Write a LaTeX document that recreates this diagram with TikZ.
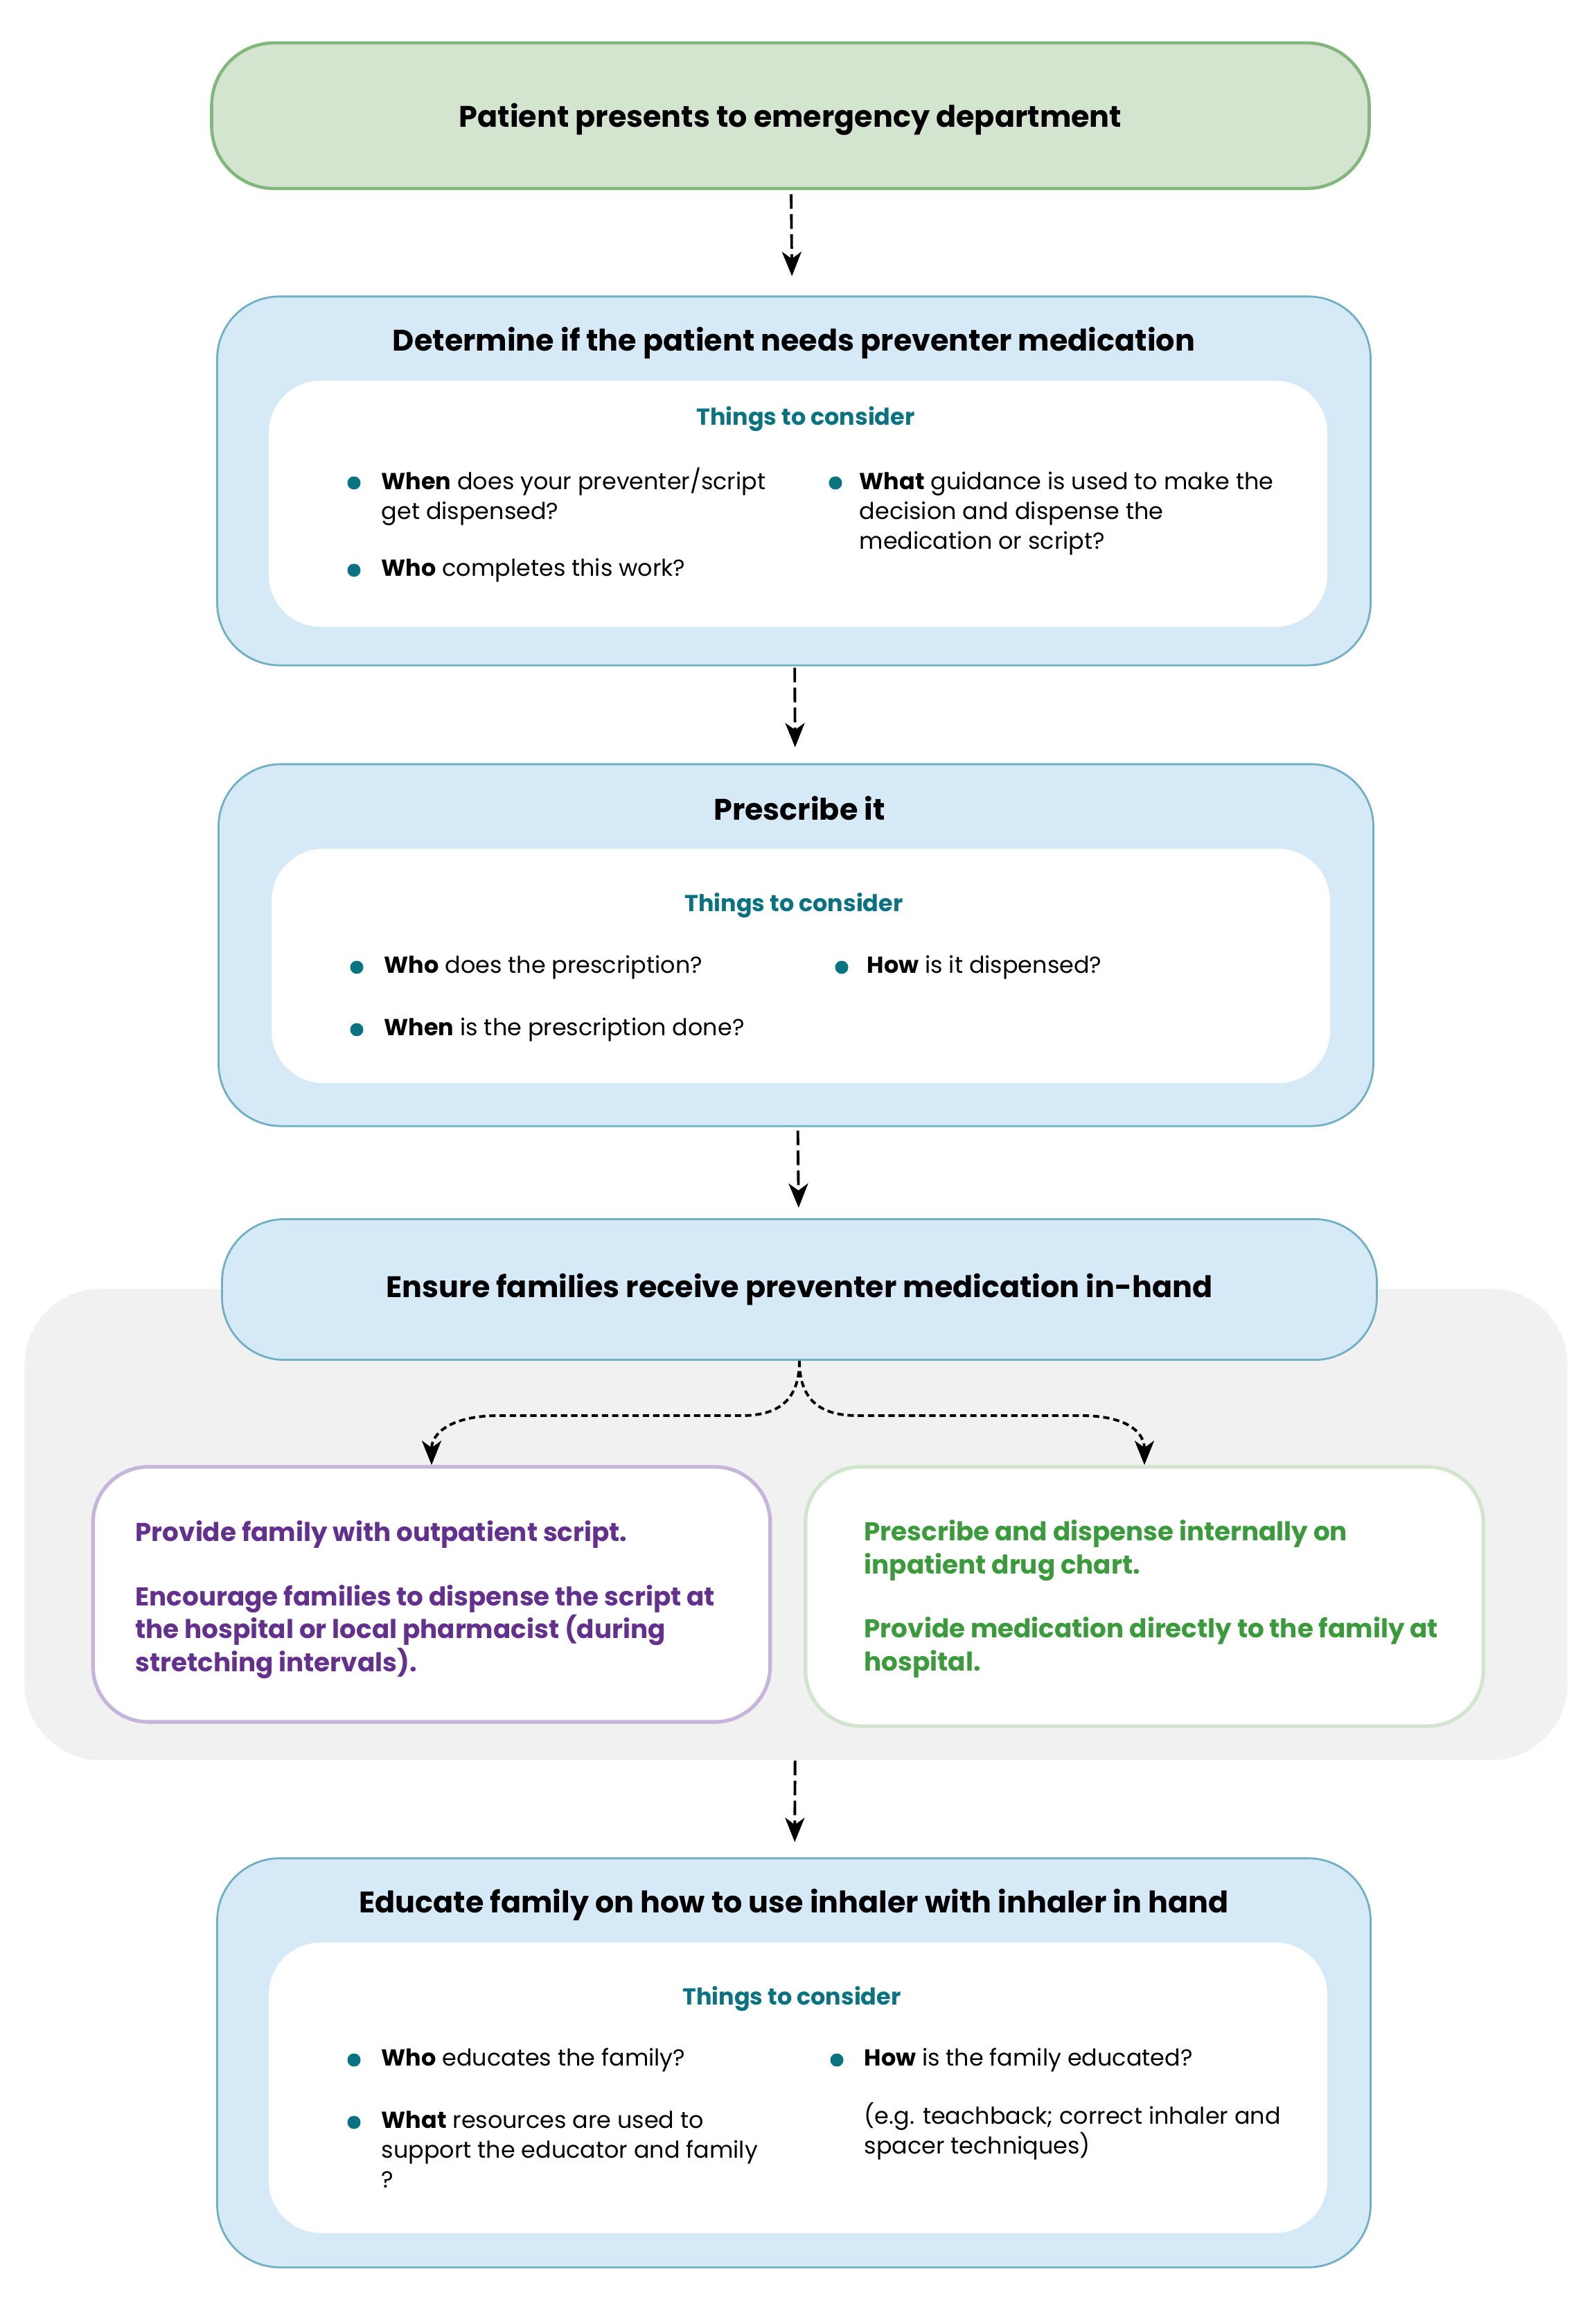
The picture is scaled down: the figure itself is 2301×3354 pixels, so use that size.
\documentclass[tikz,border=0pt]{standalone}
\usepackage{fontspec}
\setmainfont{Poppins}
\usepackage{xcolor}
\usetikzlibrary{arrows.meta,positioning}

\definecolor{entrygreen}{HTML}{D3E4CF}
\definecolor{entrygreenline}{HTML}{82B77C}
\definecolor{stageblue}{HTML}{D5EAF6}
\definecolor{stageblueline}{HTML}{6FB0C3}
\definecolor{considerteal}{HTML}{0A7382}
\definecolor{panelgray}{HTML}{F1F1F1}
\definecolor{scriptpurple}{HTML}{63308F}
\definecolor{scriptpurpleline}{HTML}{C6B5DB}
\definecolor{dispensegreen}{HTML}{3A9B3A}
\definecolor{dispensegreenline}{HTML}{D2E5CF}

\begin{document}
\begin{tikzpicture}[
    x=0.01cm, y=-0.01cm,
    box/.style={rectangle, inner sep=0pt, rounded corners=0.9cm},
    entry/.style={box, fill=entrygreen, draw=entrygreenline, line width=1.3pt},
    stage/.style={box, fill=stageblue, draw=stageblueline, line width=0.8pt},
    innerpanel/.style={box, fill=white, rounded corners=0.75cm},
    choice/.style={box, fill=white, line width=1.5pt, rounded corners=0.8cm},
    heading/.style={font=\fontsize{12.2}{15}\selectfont\bfseries, anchor=base, inner sep=0pt},
    considerhead/.style={font=\fontsize{9.5}{12}\selectfont\bfseries, text=considerteal, anchor=base, inner sep=0pt},
    item/.style={font=\fontsize{9.5}{12.2}\selectfont, align=left, anchor=base west, inner sep=0pt},
    bulletdot/.style={circle, fill=considerteal, inner sep=0pt, minimum size=0.19cm},
    choicetext/.style={font=\fontsize{10.6}{13.4}\selectfont\bfseries, align=left, anchor=base west, inner sep=0pt},
    arrow/.style={-{Stealth[length=3.5mm, width=2.8mm, inset=1mm]}, line width=1.1pt, dash pattern=on 6pt off 2.2pt},
    branch/.style={arrow, dash pattern=on 2.6pt off 1.6pt}
]
\useasboundingbox (0,0) rectangle (2301,3354);

% Entry point
\node[entry, minimum width=16.70cm, minimum height=2.10cm] (patient_presents) at (1141,167) {};
\node[heading] (patient_presents_text) at (1141,183) {Patient presents to emergency department};

% Stage 1
\node[stage, minimum width=16.64cm, minimum height=5.32cm] (determine_need) at (1146,694) {};
\node[heading] (determine_need_text) at (1146,506) {Determine if the patient needs preventer medication};
\node[innerpanel, minimum width=15.27cm, minimum height=3.55cm] (determine_inner) at (1152,727) {};
\node[considerhead] (determine_consider) at (1163,613) {Things to consider};
\node[bulletdot] (determine_dot_a) at (511,697) {};
\node[item] (determine_when) at (550,749) {\textbf{When} does your preventer/script\\get dispensed?};
\node[bulletdot] (determine_dot_b) at (511,823) {};
\node[item] (determine_who) at (550,831) {\textbf{Who} completes this work?};
\node[bulletdot] (determine_dot_c) at (1206,697) {};
\node[item] (determine_what) at (1240,792) {\textbf{What} guidance is used to make the\\decision and dispense the\\medication or script?};

% Stage 2
\node[stage, minimum width=16.66cm, minimum height=5.22cm] (prescribe_it) at (1149,1364) {};
\node[heading] (prescribe_it_text) at (1154,1183) {Prescribe it};
\node[innerpanel, minimum width=15.27cm, minimum height=3.38cm] (prescribe_inner) at (1156,1394) {};
\node[considerhead] (prescribe_consider) at (1146,1315) {Things to consider};
\node[bulletdot] (prescribe_dot_a) at (515,1396) {};
\node[item] (prescribe_who) at (554,1404) {\textbf{Who} does the prescription?};
\node[bulletdot] (prescribe_dot_b) at (515,1486) {};
\node[item] (prescribe_when) at (554,1494) {\textbf{When} is the prescription done?};
\node[bulletdot] (prescribe_dot_c) at (1215,1396) {};
\node[item] (prescribe_how) at (1251,1404) {\textbf{How} is it dispensed?};

% Stage 3 with its two routes
\node[box, fill=panelgray, rounded corners=1.1cm, minimum width=22.26cm, minimum height=6.80cm] (route_panel) at (1149,2200) {};
\node[stage, minimum width=16.66cm, minimum height=2.03cm] (ensure_in_hand) at (1154,1861) {};
\node[heading] (ensure_in_hand_text) at (1154,1872) {Ensure families receive preventer medication in-hand};

\node[choice, draw=scriptpurpleline, minimum width=9.77cm, minimum height=3.68cm] (outpatient_script) at (623,2301) {};
\node[choicetext, text=scriptpurple] (outpatient_script_a) at (195,2224) {Provide family with outpatient script.};
\node[choicetext, text=scriptpurple] (outpatient_script_b) at (195,2412) {Encourage families to dispense the script at\\the hospital or local pharmacist (during\\stretching intervals).};

\node[choice, draw=dispensegreenline, minimum width=9.78cm, minimum height=3.74cm] (inpatient_dispense) at (1652,2304) {};
\node[choicetext, text=dispensegreen] (inpatient_dispense_a) at (1247,2271) {Prescribe and dispense internally on\\inpatient drug chart.};
\node[choicetext, text=dispensegreen] (inpatient_dispense_b) at (1247,2411) {Provide medication directly to the family at\\hospital.};

% Stage 4
\node[stage, minimum width=16.64cm, minimum height=5.90cm] (educate_family) at (1146,2977) {};
\node[heading] (educate_family_text) at (1146,2760) {Educate family on how to use inhaler with inhaler in hand};
\node[innerpanel, minimum width=15.27cm, minimum height=4.19cm] (educate_inner) at (1152,3013) {};
\node[considerhead] (educate_consider) at (1143,2893) {Things to consider};
\node[bulletdot] (educate_dot_a) at (511,2973) {};
\node[item] (educate_who) at (550,2981) {\textbf{Who} educates the family?};
\node[bulletdot] (educate_dot_b) at (511,3063) {};
\node[item] (educate_what) at (550,3157) {\textbf{What} resources are used to\\support the educator and family\\?};
\node[bulletdot] (educate_dot_c) at (1208,2973) {};
\node[item] (educate_how) at (1247,2981) {\textbf{How} is the family educated?};
\node[item] (educate_eg) at (1247,3108) {(e.g. teachback; correct inhaler and\\spacer techniques)};

% Flow
\draw[arrow, shorten <=0.06cm, shorten >=0.28cm] (patient_presents) -- (determine_need);
\draw[arrow, shorten <=0.02cm, shorten >=0.23cm] (determine_need) -- (prescribe_it);
\draw[arrow, shorten <=0.05cm, shorten >=0.15cm] (prescribe_it) -- (ensure_in_hand);
\draw[branch] (ensure_in_hand.south) .. controls +(0,60) and +(50,0) .. (1070,2043) -- (720,2043) .. controls +(-70,0) and +(0,-45) .. (outpatient_script.north);
\draw[branch] (ensure_in_hand.south) .. controls +(0,60) and +(-50,0) .. (1238,2043) -- (1560,2043) .. controls +(70,0) and +(0,-45) .. (inpatient_dispense.north);
\draw[arrow, shorten >=0.22cm] (route_panel) -- (educate_family);

\end{tikzpicture}
\end{document}
